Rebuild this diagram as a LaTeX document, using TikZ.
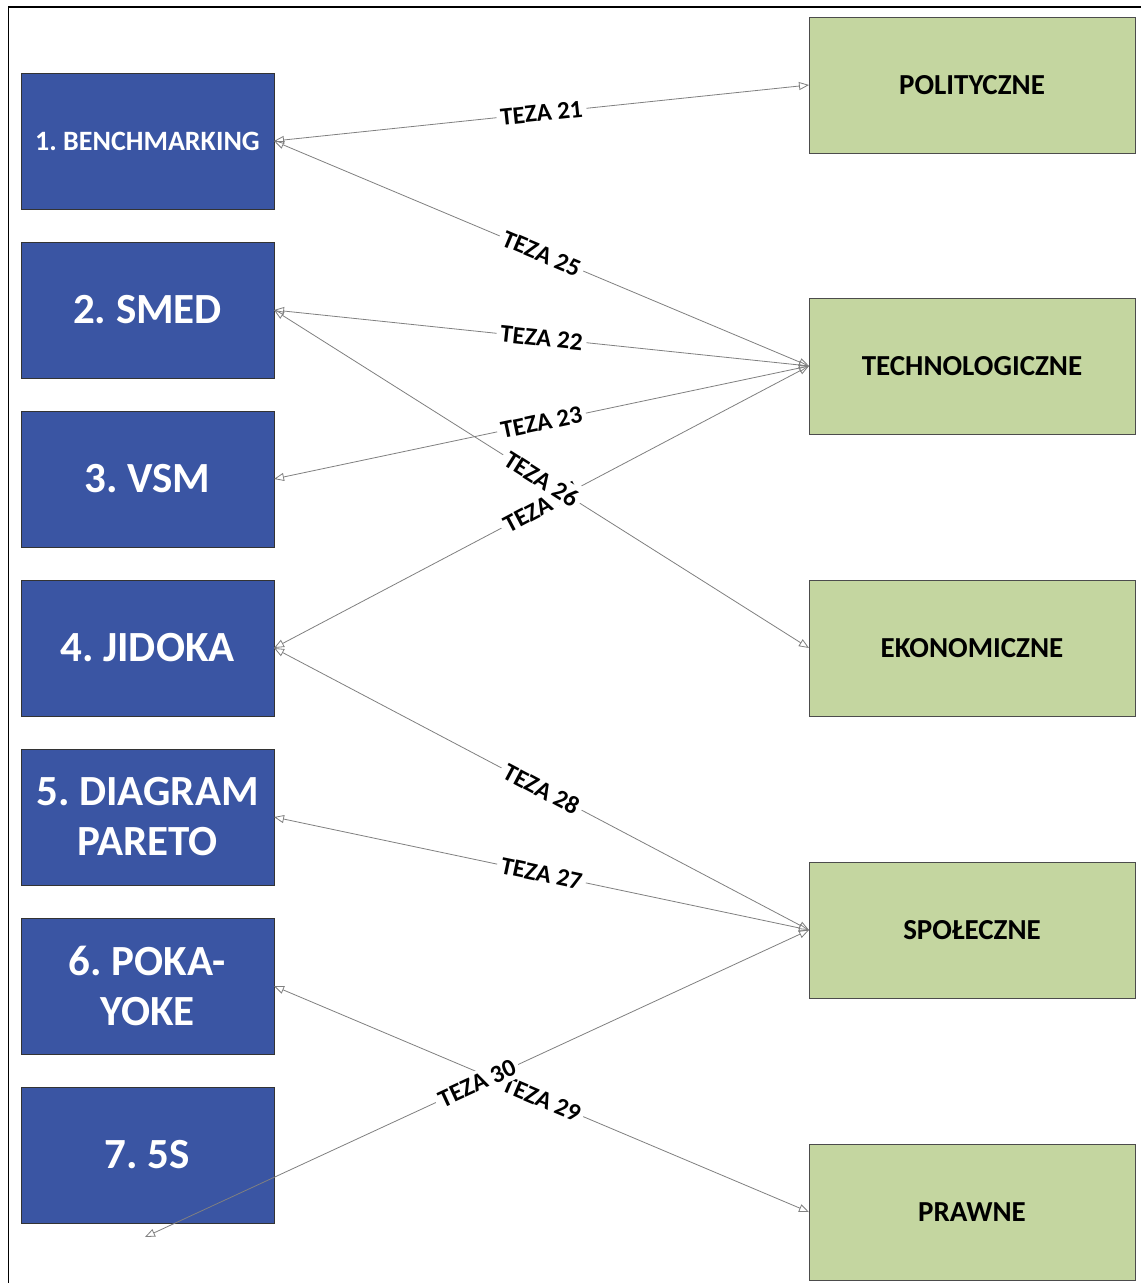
\documentclass[tikz,border=0pt]{standalone}
\usepackage{fontspec}
\setmainfont{Carlito}
\usetikzlibrary{arrows.meta}
\definecolor{toolblue}{HTML}{3A55A3}
\definecolor{factorgreen}{HTML}{C4D6A0}
\definecolor{linkgray}{HTML}{808080}
\frenchspacing
\tikzset{
  toolbox/.style={draw=black!80, line width=1pt, fill=toolblue, text=white,
    minimum width=253pt, minimum height=136pt, outer sep=0pt, align=center,
    font=\fontsize{43pt}{50pt}\selectfont\bfseries},
  toolsmall/.style={font=\fontsize{28pt}{34pt}\selectfont\bfseries},
  factorbox/.style={draw=black!70, line width=1pt, fill=factorgreen, text=black,
    minimum width=326pt, minimum height=136pt, outer sep=0pt,
    font=\fontsize{29pt}{34pt}\selectfont\bfseries},
  link/.style={draw=linkgray, line width=0.8pt,
    {Triangle[open, length=10pt, width=8pt]}-{Triangle[open, length=10pt, width=8pt]}},
  thesis/.style={midway, sloped, fill=white, inner sep=4pt, text=black,
    font=\fontsize{25pt}{30pt}\selectfont\bfseries}
}
\begin{document}
\begin{tikzpicture}[x=1pt, y=-1pt]
\useasboundingbox (0,0) rectangle (1141,1283);
\fill[white] (0,0) rectangle (1141,1283);
% outer frame
\draw[black, line width=1.6pt] (8.5,1300) -- (8.5,7) -- (1160,7);

% lean tools
\node[toolbox, toolsmall] (t1) at (147.5,141) {1. BENCHMARKING};
\node[toolbox] (t2) at (147.5,310) {2. SMED};
\node[toolbox] (t3) at (147.5,479) {3. VSM};
\node[toolbox] (t4) at (147.5,648) {4. JIDOKA};
\node[toolbox] (t5) at (147.5,817) {5. DIAGRAM\\PARETO};
\node[toolbox] (t6) at (147.5,986) {6. POKA-\\YOKE};
\node[toolbox] (t7) at (147.5,1155) {7. 5S};

% environment factors
\node[factorbox] (f1) at (972,85) {POLITYCZNE};
\node[factorbox] (f2) at (972,366) {TECHNOLOGICZNE};
\node[factorbox] (f3) at (972,648) {EKONOMICZNE};
\node[factorbox] (f4) at (972,930) {SPOŁECZNE};
\node[factorbox] (f5) at (972,1212) {PRAWNE};

\coordinate (loose) at (145,1237);

% theses
\draw[link] (t1.east) -- node[thesis] {TEZA 21} (f1.west);
\draw[link] (t1.east) -- node[thesis] {TEZA 25} (f2.west);
\draw[link] (t2.east) -- node[thesis] {TEZA 22} (f2.west);
\draw[link] (t3.east) -- node[thesis] {TEZA 23} (f2.west);
\draw[link] (t4.east) -- node[thesis] {TEZA 24} (f2.west);
\draw[link] (t2.east) -- node[thesis] {TEZA 26} (f3.west);
\draw[link] (t4.east) -- node[thesis] {TEZA 28} (f4.west);
\draw[link] (t5.east) -- node[thesis] {TEZA 27} (f4.west);
\draw[link] (t6.east) -- node[thesis] {TEZA 29} (f5.west);
\draw[link] (loose) -- node[thesis] {TEZA 30} (f4.west);
\end{tikzpicture}
\end{document}
